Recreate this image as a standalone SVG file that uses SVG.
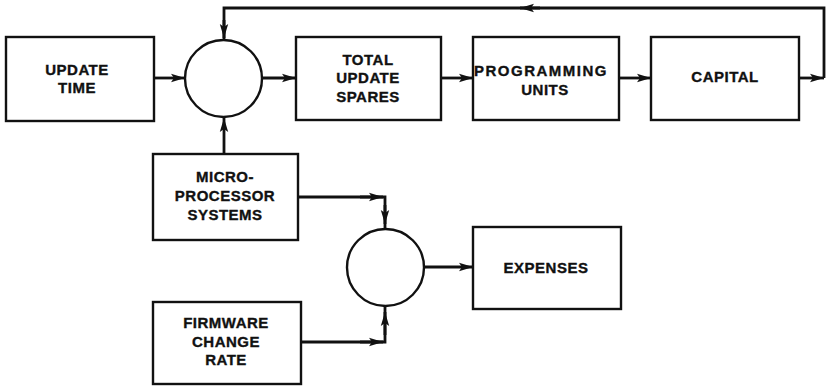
<svg xmlns="http://www.w3.org/2000/svg" width="826" height="386" viewBox="0 0 826 386">
  <style>
    .box { fill: #fff; stroke: #111; stroke-width: 2.4; }
    .sum { fill: #fff; stroke: #111; stroke-width: 2.4; }
    .lbl { font-family: "Liberation Sans", Arial, sans-serif; font-weight: bold; font-size: 15px; letter-spacing: 0.5px; fill: #111; stroke: #111; stroke-width: 0.35; text-anchor: middle; }
    .wide { letter-spacing: 1.5px; }
    .wire { fill: none; stroke: #111; stroke-width: 2.8; stroke-linejoin: miter; }
  </style>
  <defs>
    <marker id="ah" viewBox="0 0 14 10" refX="14" refY="5" markerWidth="14" markerHeight="10" markerUnits="userSpaceOnUse" orient="auto">
      <path d="M0,0.8 L14,5 L0,9.2 L3,5 Z" fill="#111"/>
    </marker>
  </defs>

  <g id="connectors">
    <!-- update time to first summing point -->
    <path class="wire" d="M154,78 H185" marker-end="url(#ah)"/>
    <!-- first summing point to total update spares -->
    <path class="wire" d="M262,78 H296" marker-end="url(#ah)"/>
    <!-- spares to programming units -->
    <path class="wire" d="M441,78 H473" marker-end="url(#ah)"/>
    <!-- programming units to capital -->
    <path class="wire" d="M619,78 H651" marker-end="url(#ah)"/>
    <!-- capital out to the right edge -->
    <path class="wire" d="M799,78 H824" marker-end="url(#ah)"/>
    <!-- feedback loop along the top -->
    <path class="wire" d="M824,78 V8 H224 V40"/>
    <path class="wire" d="M540,8 H520" marker-end="url(#ah)"/>
    <path class="wire" d="M224,20 V38" marker-end="url(#ah)"/>
    <!-- microprocessor systems up into first summing point -->
    <path class="wire" d="M224,154 V118" marker-end="url(#ah)"/>
    <!-- microprocessor systems to second summing point -->
    <path class="wire" d="M298,197 H385 V229"/>
    <path class="wire" d="M360,197 H383" marker-end="url(#ah)"/>
    <path class="wire" d="M385,205 V224" marker-end="url(#ah)"/>
    <!-- firmware change rate to second summing point -->
    <path class="wire" d="M301,342 H385 V306"/>
    <path class="wire" d="M360,342 H383" marker-end="url(#ah)"/>
    <path class="wire" d="M385,335 V312" marker-end="url(#ah)"/>
    <!-- second summing point to expenses -->
    <path class="wire" d="M424,267 H473" marker-end="url(#ah)"/>
  </g>

  <g id="update-time">
    <rect class="box" x="6" y="37" width="148" height="84"/>
    <text class="lbl" x="77" y="75">UPDATE</text>
    <text class="lbl" x="77" y="93">TIME</text>
  </g>

  <g id="sum-1">
    <circle class="sum" cx="223.5" cy="78.5" r="38.5"/>
  </g>

  <g id="total-update-spares">
    <rect class="box" x="296" y="37" width="145" height="83"/>
    <text class="lbl" x="368" y="65">TOTAL</text>
    <text class="lbl" x="368" y="83">UPDATE</text>
    <text class="lbl" x="368" y="102">SPARES</text>
  </g>

  <g id="programming-units">
    <rect class="box" x="473" y="37" width="146" height="83"/>
    <text class="lbl wide" x="541" y="76">PROGRAMMING</text>
    <text class="lbl" x="545" y="95">UNITS</text>
  </g>

  <g id="capital">
    <rect class="box" x="651" y="37" width="148" height="83"/>
    <text class="lbl" x="725" y="82">CAPITAL</text>
  </g>

  <g id="microprocessor-systems">
    <rect class="box" x="153" y="154" width="145" height="86"/>
    <text class="lbl" x="225" y="182">MICRO-</text>
    <text class="lbl" x="225" y="201">PROCESSOR</text>
    <text class="lbl" x="225" y="220">SYSTEMS</text>
  </g>

  <g id="sum-2">
    <circle class="sum" cx="385.5" cy="267.5" r="38.5"/>
  </g>

  <g id="firmware-change-rate">
    <rect class="box" x="153" y="302" width="148" height="82"/>
    <text class="lbl" x="226" y="328">FIRMWARE</text>
    <text class="lbl" x="226" y="347">CHANGE</text>
    <text class="lbl" x="226" y="365">RATE</text>
  </g>

  <g id="expenses">
    <rect class="box" x="473" y="227" width="148" height="82"/>
    <text class="lbl" x="546" y="273">EXPENSES</text>
  </g>
</svg>
